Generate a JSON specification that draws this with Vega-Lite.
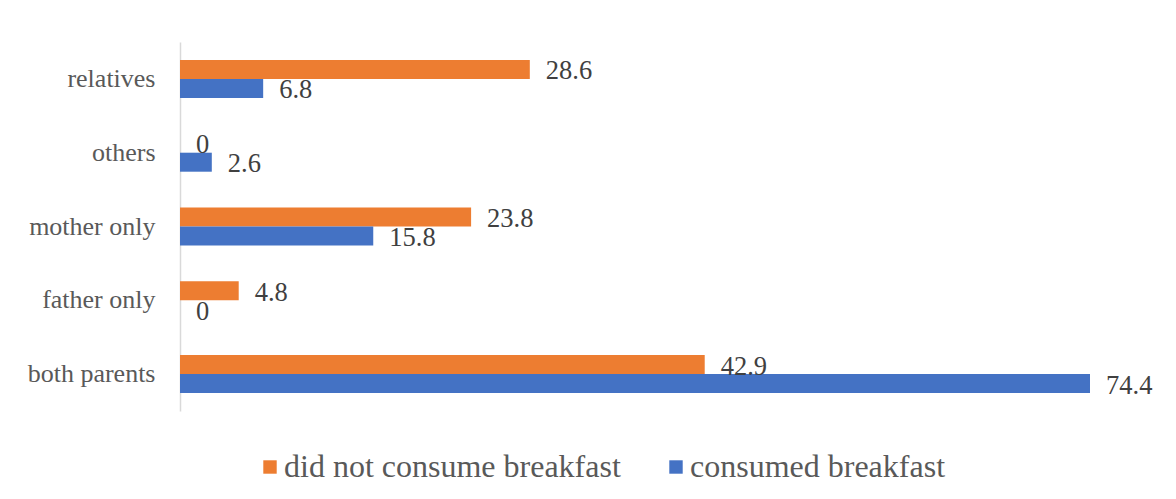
{
  "$schema": "https://vega.github.io/schema/vega-lite/v6.json",
  "autosize": "none",
  "width": 910,
  "height": 369,
  "padding": {"left": 180, "top": 42, "right": 86, "bottom": 88},
  "background": "white",
  "config": {
    "view": {"stroke": null},
    "font": "Liberation Serif"
  },
  "data": {
    "values": [
      {"group": "relatives\u00a0", "series": "did not consume breakfast", "value": 28.6},
      {"group": "relatives\u00a0", "series": "consumed breakfast", "value": 6.8},
      {"group": "others", "series": "did not consume breakfast", "value": 0},
      {"group": "others", "series": "consumed breakfast", "value": 2.6},
      {"group": "mother only", "series": "did not consume breakfast", "value": 23.8},
      {"group": "mother only", "series": "consumed breakfast", "value": 15.8},
      {"group": "father only", "series": "did not consume breakfast", "value": 4.8},
      {"group": "father only", "series": "consumed breakfast", "value": 0},
      {"group": "both parents", "series": "did not consume breakfast", "value": 42.9},
      {"group": "both parents", "series": "consumed breakfast", "value": 74.4}
    ]
  },
  "encoding": {
    "y": {
      "field": "group",
      "type": "nominal",
      "sort": ["relatives\u00a0", "others", "mother only", "father only", "both parents"],
      "scale": {"paddingInner": 0.485, "paddingOuter": 0.2425},
      "axis": {
        "title": null,
        "ticks": false,
        "domainColor": "#D9D9D9",
        "domainWidth": 1.5,
        "labelFont": "Liberation Serif",
        "labelFontSize": 26,
        "labelColor": "#595959",
        "labelPadding": 25,
        "labelLimit": 300
      }
    },
    "yOffset": {
      "field": "series",
      "type": "nominal",
      "sort": ["did not consume breakfast", "consumed breakfast"],
      "scale": {"paddingInner": 0, "paddingOuter": 0}
    },
    "x": {
      "field": "value",
      "type": "quantitative",
      "scale": {"domain": [0, 74.4], "nice": false},
      "axis": null
    }
  },
  "layer": [
    {
      "mark": {"type": "bar"},
      "encoding": {
        "color": {
          "field": "series",
          "type": "nominal",
          "scale": {
            "domain": ["did not consume breakfast", "consumed breakfast"],
            "range": ["#ED7D31", "#4472C4"]
          },
          "legend": {
            "title": null,
            "orient": "none",
            "direction": "horizontal",
            "legendX": 74,
            "legendY": 409,
            "symbolType": "square",
            "symbolSize": 180,
            "symbolStrokeWidth": 0,
            "labelFont": "Liberation Serif",
            "labelFontSize": 32,
            "labelColor": "#595959",
            "labelOffset": -2,
            "columnPadding": 39,
            "labelLimit": 500
          }
        }
      }
    },
    {
      "mark": {
        "type": "text",
        "align": "left",
        "baseline": "middle",
        "dx": 16,
        "dy": 2,
        "font": "Liberation Serif",
        "fontSize": 26.5,
        "color": "#404040"
      },
      "encoding": {
        "text": {"field": "value", "type": "quantitative"}
      }
    }
  ]
}
